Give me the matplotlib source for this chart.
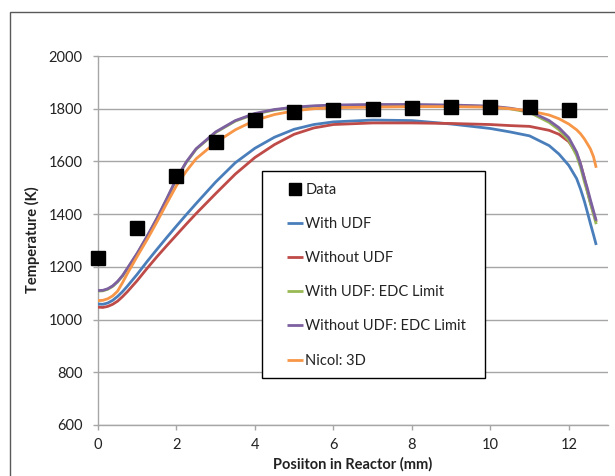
import matplotlib
matplotlib.use("Agg")
import matplotlib.pyplot as plt
from matplotlib.patches import Rectangle

plt.rcParams['font.family'] = ['Lato', 'DejaVu Sans']

# ---- data ----
data_x = [0, 1, 2, 3, 4, 5, 6, 7, 8, 9, 10, 11, 12]
data_t = [1232, 1348, 1545, 1675, 1757, 1787, 1797, 1800, 1802, 1805, 1807, 1807, 1795]

pos = [0, 0.125, 0.25, 0.375, 0.5, 0.625, 0.75, 1, 1.25, 1.5, 1.75, 2, 2.25, 2.5, 3, 3.5,
       4, 4.5, 5, 5.5, 6, 7, 8, 9, 10, 10.5, 11, 11.5, 11.75, 12, 12.2, 12.3, 12.4, 12.47,
       12.55, 12.63, 12.7]

with_udf = [1059, 1058, 1063, 1073, 1088, 1106, 1127, 1172, 1220, 1266, 1311, 1355, 1398,
            1440, 1522, 1595, 1650, 1692, 1722, 1740, 1750, 1757, 1755, 1742, 1725, 1712,
            1697, 1660, 1628, 1585, 1535, 1495, 1448, 1410, 1365, 1322, 1283]
without_udf = [1047, 1046, 1050, 1058, 1070, 1087, 1106, 1148, 1194, 1238, 1280, 1321, 1362,
               1402, 1478, 1552, 1615, 1664, 1703, 1727, 1740, 1746, 1746, 1744, 1740, 1736,
               1733, 1718, 1703, 1675, 1630, 1590, 1535, 1490, 1445, 1405, 1370]
with_udf_edc = [1108, 1109, 1115, 1126, 1143, 1165, 1193, 1250, 1314, 1382, 1456, 1533, 1596,
                1646, 1710, 1753, 1780, 1795, 1804, 1809, 1812, 1814, 1814, 1812, 1808, 1800,
                1786, 1748, 1720, 1680, 1622, 1578, 1522, 1487, 1442, 1400, 1362]
without_udf_edc = [1110, 1111, 1117, 1128, 1145, 1167, 1195, 1252, 1316, 1384, 1458, 1535,
                   1598, 1648, 1712, 1755, 1782, 1797, 1806, 1811, 1814, 1816, 1816, 1814,
                   1810, 1802, 1790, 1755, 1728, 1690, 1635, 1590, 1535, 1500, 1455, 1412,
                   1375]
nicol_3d = [1072, 1073, 1079, 1090, 1108, 1140, 1175, 1240, 1303, 1370, 1440, 1508, 1563,
            1610, 1672, 1720, 1756, 1778, 1792, 1800, 1804, 1806, 1808, 1808, 1806, 1800,
            1792, 1776, 1762, 1742, 1720, 1705, 1685, 1668, 1648, 1618, 1576]

series = [
    ("With UDF", with_udf, "#4A7EBB"),
    ("Without UDF", without_udf, "#BE4B48"),
    ("With UDF: EDC Limit", with_udf_edc, "#98B954"),
    ("Without UDF: EDC Limit", without_udf_edc, "#7D60A0"),
    ("Nicol: 3D", nicol_3d, "#F79646"),
]

x_ticks = [0, 2, 4, 6, 8, 10, 12]
y_ticks = [600, 800, 1000, 1200, 1400, 1600, 1800, 2000]

W, H = 615, 476
fig = plt.figure(figsize=(W / 100, H / 100), dpi=100)
ax = fig.add_axes([98 / W, 1 - 425 / H, (608 - 98) / W, (425 - 56) / H])

handles = []
h_data, = ax.plot(data_x, data_t, linestyle='none', marker='s', markersize=9.5,
                  color='black', zorder=4, label='Data', clip_on=False)
handles.append(h_data)
for name, vals, col in series:
    h, = ax.plot(pos, vals, color=col, lw=2.0, solid_capstyle='butt',
                 solid_joinstyle='round', zorder=3, label=name)
    handles.append(h)

ax.set_xlim(0, 13)
ax.set_ylim(600, 2000)
ax.set_xticks(x_ticks)
ax.set_yticks(y_ticks)
ax.grid(axis='y', color='#A6A6A6', lw=1.0, zorder=0)
ax.set_axisbelow(True)
for s in ['top', 'right']:
    ax.spines[s].set_visible(False)
for s in ['left', 'bottom']:
    ax.spines[s].set_color('#A6A6A6')
    ax.spines[s].set_linewidth(1.0)
ax.tick_params(axis='y', length=3.6, width=1, color='#A6A6A6', pad=7.5, labelsize=10.5,
               labelcolor='#222222')
ax.tick_params(axis='x', length=3.6, width=1, color='#A6A6A6', pad=6, labelsize=10.5,
               labelcolor='#222222')

fig.text(32 / W, 1 - 240 / H, "Temperature (K)", rotation=90, ha='center', va='center',
         fontsize=10.5, fontweight='bold', color='#222222')
fig.text(353 / W, 1 - 464 / H, "Posiiton in Reactor (mm)", ha='center', va='center',
         fontsize=10.5, fontweight='bold', color='#222222')

# legend frame
frame = Rectangle((262 / W, 1 - 378 / H), (485 - 262) / W, (378 - 171) / H,
                  transform=fig.transFigure, facecolor='white', edgecolor='black',
                  lw=1.0, zorder=5, clip_on=False)
ax.add_patch(frame)
leg = ax.legend(handles=handles, loc='upper left', bbox_to_anchor=(287 / W, 1 - 183 / H),
                bbox_transform=fig.transFigure, frameon=False, borderpad=0,
                borderaxespad=0, handlelength=1.1, handletextpad=0.15,
                labelspacing=1.38, fontsize=10.5, markerscale=0.85)
leg.set_zorder(6)
for t in leg.get_texts():
    t.set_color('#222222')

# outer chart border
fig.patches.append(Rectangle((9.5 / W, -0.05), 1.2, 1 - 12 / H + 0.05,
                             transform=fig.transFigure, fill=False,
                             edgecolor='#595959', lw=1.0, figure=fig))

fig.savefig("out.png", dpi=100)
